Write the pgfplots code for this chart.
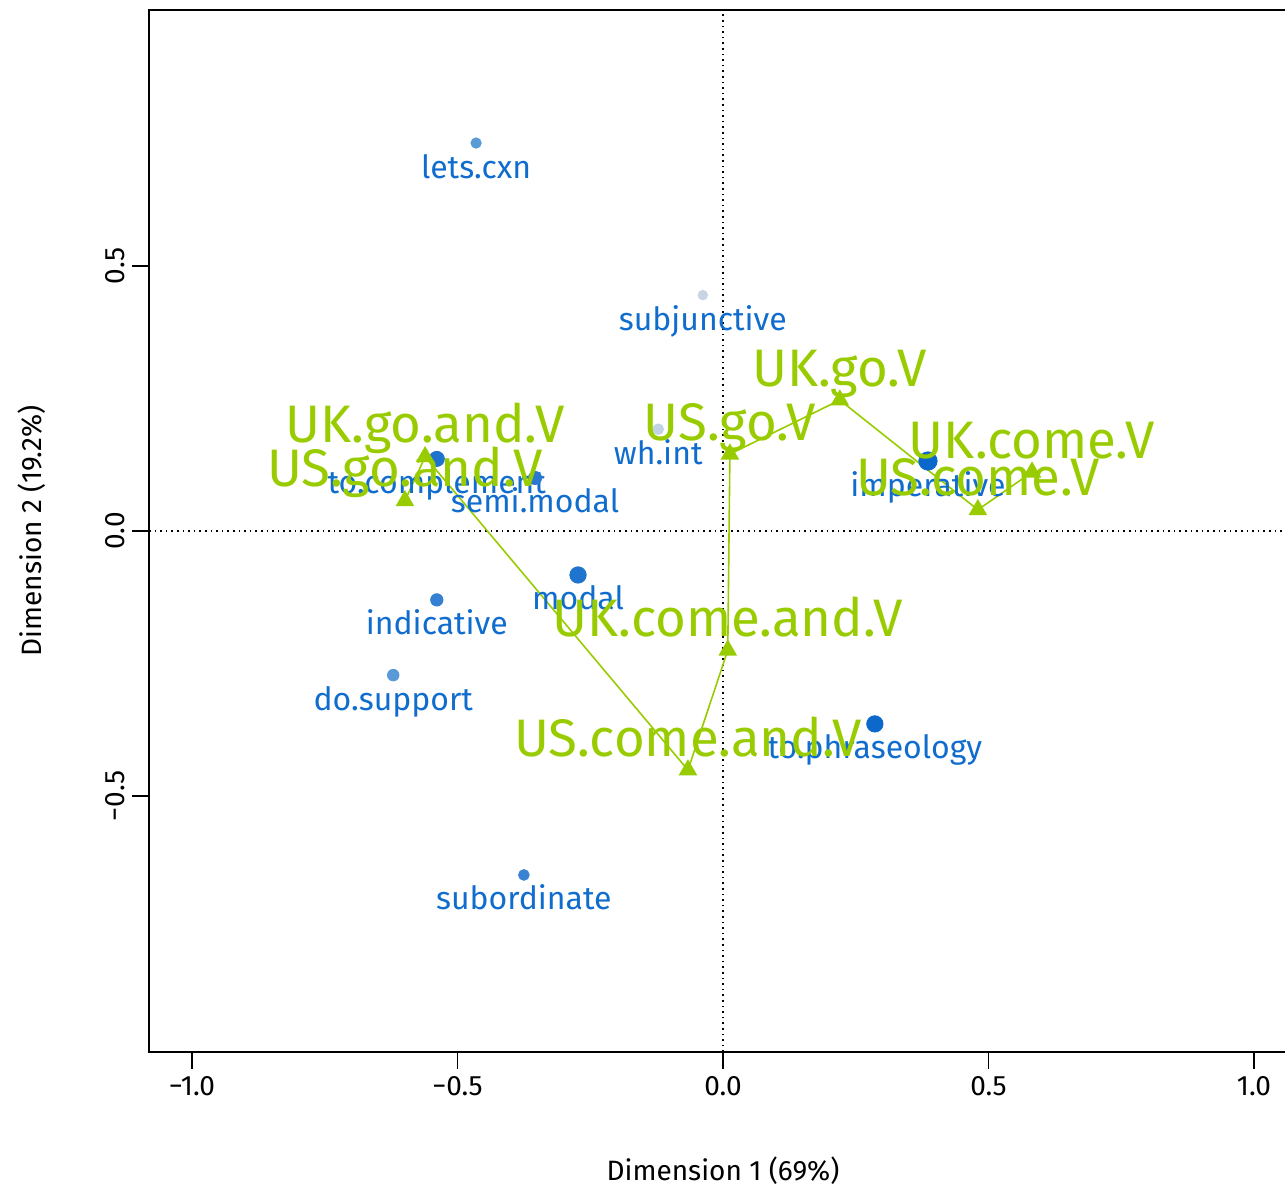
\documentclass[border=0pt]{standalone}
\usepackage{pgfplots}
\pgfplotsset{compat=1.18}
\usepackage{fontspec}
\setmainfont{Fira Sans}

\definecolor{lab}{HTML}{106DCE}
\definecolor{colgreen}{HTML}{99CC00}
\definecolor{letsc}{HTML}{5B9BD5}
\definecolor{subjc}{HTML}{C9D5E5}
\definecolor{whc}{HTML}{C2D3E6}
\definecolor{toc}{HTML}{1E73CF}
\definecolor{semic}{HTML}{2A78D0}
\definecolor{impc}{HTML}{0A68CC}
\definecolor{modc}{HTML}{1E74CF}
\definecolor{indc}{HTML}{3580D3}
\definecolor{doc}{HTML}{5A98D8}
\definecolor{phrc}{HTML}{0D68CB}
\definecolor{subc}{HTML}{3A83D4}

\pgfplotsset{
  rowpt/.style 2 args={only marks, mark=*, mark size=#1, color=#2,
    mark options={solid, draw=#2, fill=#2},
    nodes near coords, point meta=explicit symbolic,
    every node near coord/.style={anchor=base, yshift=-17.5pt, text=lab,
      font=\fontsize{16}{18}\selectfont}},
}

\begin{document}
\begin{tikzpicture}
\begin{axis}[
  name=ax,
  scale only axis,
  width=574pt, height=521pt,
  xmin=-1.081, xmax=1.081, ymin=-0.983, ymax=0.983,
  axis line style={line width=0.8pt},
  tick style={line width=0.8pt, black},
  tick align=outside, major tick length=8.5pt,
  xtick pos=bottom, ytick pos=left,
  xtick={-1,-0.5,0,0.5,1},
  xticklabels={−1.0,−0.5,0.0,0.5,1.0},
  ytick={-0.5,0,0.5},
  yticklabels={−0.5,0.0,0.5},
  ticklabel style={font=\fontsize{14}{16}\selectfont},
  yticklabel style={rotate=90, anchor=south},
  xlabel={Dimension 1 (69\%)},
  ylabel={Dimension 2 (19.2\%)},
  label style={font=\fontsize{14}{16}\selectfont},
  xlabel style={at={(axis description cs:0.5,-0.1142)}, anchor=center},
  ylabel style={at={(axis description cs:-0.1019,0.5)}, anchor=center},
  clip=false,
]
% reference lines through the origin
\addplot[black, line width=0.8pt, dotted] coordinates {(0,-0.983) (0,0.983)};
\addplot[black, line width=0.8pt, dotted] coordinates {(-1.081,0) (1.081,0)};

% rows
\addplot[rowpt={2.6pt}{letsc}] coordinates {(-0.465,0.732) [lets.cxn]};
\addplot[rowpt={2.4pt}{subjc}] coordinates {(-0.038,0.445) [subjunctive]};
\addplot[rowpt={2.7pt}{whc}] coordinates {(-0.122,0.192) [wh.int]};
\addplot[rowpt={3.8pt}{toc}] coordinates {(-0.539,0.136) [to.complement]};
\addplot[rowpt={3.3pt}{semic}] coordinates {(-0.354,0.100) [semi.modal]};
\addplot[rowpt={4.6pt}{impc}] coordinates {(0.386,0.132) [imperative]};
\addplot[rowpt={4.1pt}{modc}] coordinates {(-0.273,-0.083) [modal]};
\addplot[rowpt={3.1pt}{indc}] coordinates {(-0.539,-0.130) [indicative]};
\addplot[rowpt={2.9pt}{doc}] coordinates {(-0.621,-0.272) [do.support]};
\addplot[rowpt={4.1pt}{phrc}] coordinates {(0.286,-0.364) [to.phraseology]};
\addplot[rowpt={2.7pt}{subc}] coordinates {(-0.375,-0.649) [subordinate]};

% columns
\addplot[colgreen, line width=0.8pt, mark=triangle*, mark size=4.6pt,
  mark options={solid, draw=colgreen, fill=colgreen},
  nodes near coords, point meta=explicit symbolic,
  every node near coord/.style={anchor=base, yshift=7pt, text=colgreen,
    font=\fontsize{26.4}{29}\selectfont}]
  coordinates {
  (-0.599,0.057) [US.go.and.V]
  (-0.561,0.140) [UK.go.and.V]
  (-0.066,-0.451) [US.come.and.V]
  (0.009,-0.225) [UK.come.and.V]
  (0.013,0.145) [US.go.V]
  (0.220,0.247) [UK.go.V]
  (0.480,0.040) [US.come.V]
  (0.582,0.111) [UK.come.V]
  };
\end{axis}
\path (ax.south west) ++(-74.5pt,-68pt) coordinate (bbsw);
\path (ax.north east) ++(-6pt,5pt) coordinate (bbne);
\pgfresetboundingbox
\useasboundingbox (bbsw) rectangle (bbne);
\end{tikzpicture}
\end{document}
